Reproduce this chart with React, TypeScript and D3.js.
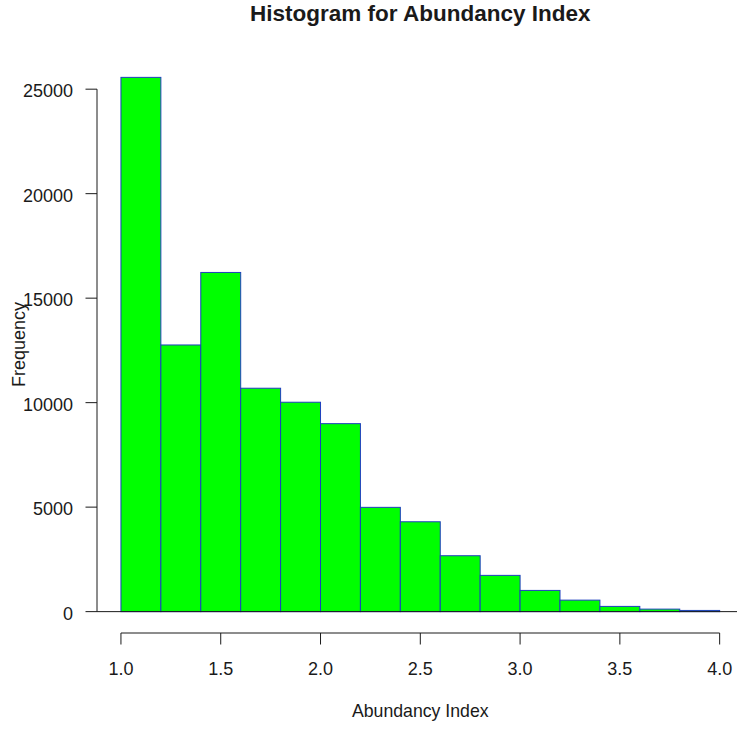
import React from "react";
import * as d3 from "d3";

const breaks = [1.0, 1.2, 1.4, 1.6, 1.8, 2.0, 2.2, 2.4, 2.6, 2.8, 3.0, 3.2, 3.4, 3.6, 3.8, 4.0];
const counts = [25565, 12760, 16230, 10690, 10020, 8995, 4990, 4300, 2675, 1735, 1015, 550, 250, 120, 57];
const xTicks = [1.0, 1.5, 2.0, 2.5, 3.0, 3.5, 4.0];
const xTickLabels = ["1.0", "1.5", "2.0", "2.5", "3.0", "3.5", "4.0"];
const yTicks = [0, 5000, 10000, 15000, 20000, 25000];
const title = "Histogram for Abundancy Index";
const xLabel = "Abundancy Index";
const yLabel = "Frequency";

const W = 737;
const H = 729;
const font = "Liberation Sans, Arial, Helvetica, sans-serif";

export default function App() {
  const xmin = breaks[0];
  const xmax = breaks[breaks.length - 1];
  const xext = (xmax - xmin) * 0.04;
  const ymax = d3.max(counts) as number;
  const yext = ymax * 0.04;
  const x = d3.scaleLinear().domain([xmin - xext, xmax + xext]).range([97, 743.6]);
  const y = d3.scaleLinear().domain([-yext, ymax + yext]).range([633, 56]);
  const [px0, px1] = x.range();
  const plotBottom = y.range()[0];
  const plotTop = y.range()[1];
  const cx = (px0 + px1) / 2;
  const cy = (plotBottom + plotTop) / 2;
  const ink = "#1a1a1a";

  return (
    <div style={{ position: "fixed", left: 0, top: 0, width: W, height: H, background: "#fff" }}>
      <svg width={W} height={H} style={{ display: "block" }} fontFamily={font}>
        <rect width={W} height={H} fill="#fff" />
        <text x={cx} y={21} textAnchor="middle" fontSize={22.5} fontWeight="bold" fill={ink}>
          {title}
        </text>
        {counts.map((c, i) => (
          <rect
            key={i}
            x={x(breaks[i])}
            y={y(c)}
            width={x(breaks[i + 1]) - x(breaks[i])}
            height={y(0) - y(c)}
            fill="#00ff00"
            stroke="#1f3fbf"
            strokeWidth={1}
          />
        ))}
        <line x1={px0} x2={px1} y1={y(0)} y2={y(0)} stroke={ink} strokeWidth={1} />
        {/* y axis */}
        <line x1={px0} x2={px0} y1={y(0)} y2={y(25000)} stroke={ink} strokeWidth={1} />
        {yTicks.map((t) => (
          <g key={t}>
            <line x1={px0 - 11.5} x2={px0} y1={y(t)} y2={y(t)} stroke={ink} strokeWidth={1} />
            <text x={73} y={y(t) + 8} textAnchor="end" fontSize={18} fill={ink}>
              {t}
            </text>
          </g>
        ))}
        {/* x axis */}
        <line x1={x(xTicks[0])} x2={x(xTicks[xTicks.length - 1])} y1={plotBottom} y2={plotBottom} stroke={ink} strokeWidth={1} />
        {xTicks.map((t, i) => (
          <g key={t}>
            <line x1={x(t)} x2={x(t)} y1={plotBottom} y2={plotBottom + 11.5} stroke={ink} strokeWidth={1} />
            <text x={x(t)} y={675} textAnchor="middle" fontSize={18} fill={ink}>
              {xTickLabels[i]}
            </text>
          </g>
        ))}
        <text x={cx} y={717} textAnchor="middle" fontSize={17.7} fill={ink}>
          {xLabel}
        </text>
        <text
          transform={`translate(25,${cy}) rotate(-90)`}
          textAnchor="middle"
          fontSize={18}
          fill={ink}
        >
          {yLabel}
        </text>
      </svg>
    </div>
  );
}
